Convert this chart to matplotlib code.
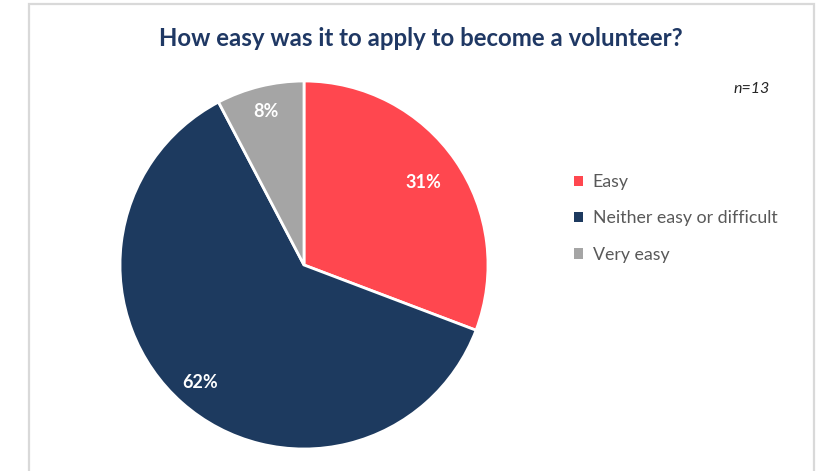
import numpy as np
import matplotlib.pyplot as plt
from matplotlib.patches import Rectangle

plt.rcParams['font.family'] = ['Lato', 'DejaVu Sans']

# survey answers (n=13)
labels = ['Easy', 'Neither easy or difficult', 'Very easy']
counts = [4, 8, 1]
colors = ['#FF474F', '#1D3A5F', '#A5A5A5']
label_dist = [0.79, 0.85, 0.86]

W, H = 816, 471
fig = plt.figure(figsize=(W / 100, H / 100), dpi=100)

# light grey frame round the chart area
fig.patches.append(Rectangle((28.5 / W, -0.05), (814 - 28.5) / W, (H - 4) / H + 0.05,
                             transform=fig.transFigure, fill=False,
                             edgecolor='#D9D9D9', linewidth=1.6))

# pie axes: centre (304, 265) px, radius 184 px
cx, cy, r = 304, 265, 184
ax = fig.add_axes([(cx - r) / W, (H - cy - r) / H, 2 * r / W, 2 * r / H])
wedges, texts, autotexts = ax.pie(
    counts, colors=colors, startangle=90, counterclock=False,
    autopct=lambda p: f'{p:.0f}%', pctdistance=0.8,
    wedgeprops=dict(edgecolor='white', linewidth=2),
    textprops=dict(color='white', fontsize=13, fontweight='bold'))
# move each percentage along its wedge's mid angle
for w, t, d in zip(wedges, autotexts, label_dist):
    a = np.deg2rad((w.theta1 + w.theta2) / 2)
    t.set_position((d * np.cos(a), d * np.sin(a)))
ax.set_xlim(-1, 1)
ax.set_ylim(-1, 1)
ax.set_aspect('auto')
ax.axis('off')

fig.text(421 / W, 1 - 38 / H, 'How easy was it to apply to become a volunteer?',
         ha='center', va='center', fontsize=17.3, fontweight='bold', color='#1F3864')
fig.text(752 / W, 1 - 89 / H, 'n=13', ha='center', va='center',
         fontsize=11.5, style='italic', color='#262626')

leg = fig.legend(wedges, labels, loc='upper left', bbox_to_anchor=(565 / W, 1 - 165 / H),
                 frameon=False, fontsize=12.8, handlelength=0.5, handleheight=0.5,
                 handletextpad=0.55, labelspacing=1.15, borderpad=0)
for t in leg.get_texts():
    t.set_color('#595959')
for h in leg.legend_handles:
    h.set_edgecolor('none')

fig.savefig('out.png', dpi=100)
